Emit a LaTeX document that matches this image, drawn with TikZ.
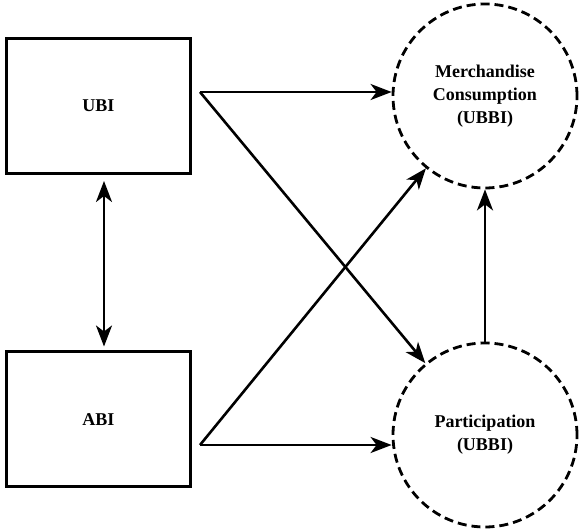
\documentclass[tikz,border=0pt]{standalone}
\usepackage{fontspec}
\setmainfont{Liberation Serif}
\usetikzlibrary{arrows.meta}
\tikzset{tip/.tip={Stealth[length=21pt,width=16pt,inset=6pt]}}
\begin{document}
\begin{tikzpicture}[x=1pt,y=-1pt,
  box/.style={draw, line width=3pt, minimum width=184pt, minimum height=135pt, inner sep=0pt,
    font=\fontsize{18}{23}\selectfont\bfseries},
  construct/.style={draw, circle, dashed, dash pattern=on 9pt off 5pt, line width=2.8pt,
    minimum size=184pt, inner sep=0pt, align=center,
    font=\fontsize{18}{23}\selectfont\bfseries},
  link/.style={line width=2.6pt, -tip}
]
\useasboundingbox (0,0) rectangle (579,529);

\node[box] (ubi) at (98.5,106) {UBI};
\node[box] (abi) at (98.5,419.5) {ABI};
\node[construct] (merch) at (485,96) {Merchandise\\Consumption\\(UBBI)};
\node[construct] (part) at (485,435) {Participation\\(UBBI)};

\coordinate (u) at (200,92);
\coordinate (a) at (200,445);

\draw[link] (u) -- (u -| merch.west);
\draw[link] (u) -- (part);
\draw[link] (a) -- (merch);
\draw[link] (a) -- (a -| part.west);
\draw[link] (part) -- (merch);
\draw[line width=2.6pt, tip-tip, shorten <=6pt, shorten >=4pt]
  ([xshift=5.5pt]ubi.south) -- ([xshift=5.5pt]abi.north);
\end{tikzpicture}
\end{document}
